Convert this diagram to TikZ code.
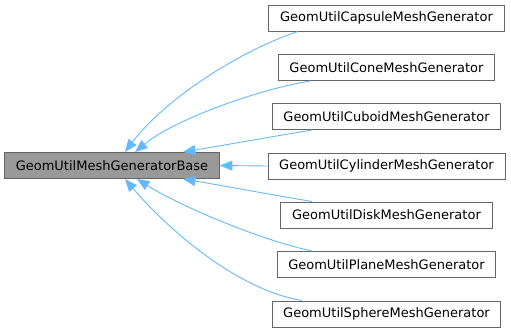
\documentclass[tikz,border=0pt]{standalone}
\usepackage{fontspec}
\setmainfont{DejaVu Sans}
\usetikzlibrary{arrows.meta}
\definecolor{edgeblue}{HTML}{63B8FF}
\definecolor{boxborder}{HTML}{666666}
\definecolor{basefill}{HTML}{999999}
\begin{document}
\begin{tikzpicture}[x=1pt,y=-1pt,
  cls/.style={draw=boxborder, line width=1pt, fill=white, minimum height=26pt,
    inner xsep=11.2pt, inner ysep=0pt, font=\fontsize{13}{15}\selectfont, text=black},
  basecls/.style={cls, fill=basefill},
  edge/.style={draw=edgeblue, line width=0.9pt, {Triangle[length=12.5pt,width=10pt]}-}
]
\useasboundingbox (0,0) rectangle (511,332);
\node[basecls] (base) at (112,165.5) {GeomUtilMeshGeneratorBase};
\node[cls] (capsule) at (386.5,18) {GeomUtilCapsuleMeshGenerator};
\node[cls] (cone) at (386.5,67.5) {GeomUtilConeMeshGenerator};
\node[cls] (cuboid) at (386.5,116.5) {GeomUtilCuboidMeshGenerator};
\node[cls] (cylinder) at (386.5,166) {GeomUtilCylinderMeshGenerator};
\node[cls] (disk) at (386.5,215) {GeomUtilDiskMeshGenerator};
\node[cls] (plane) at (386.5,264.5) {GeomUtilPlaneMeshGenerator};
\node[cls] (sphere) at (386.5,314) {GeomUtilSphereMeshGenerator};

\draw[edge] ([xshift=13pt]base.north) .. controls +(40,-53) and +(-58,19) .. ([xshift=-88.5pt]capsule.south);
\draw[edge] ([xshift=23pt]base.north) .. controls +(40,-33) and +(-50,8) .. ([xshift=-76.5pt]cone.south);
\draw[edge] ([xshift=71pt]base.north) .. controls +(42,-7) and +(-42,7) .. ([xshift=-74.5pt]cuboid.south);
\draw[edge] (base.east) -- (cylinder.west);
\draw[edge] ([xshift=71pt]base.south) .. controls +(42,7) and +(-42,-7) .. ([xshift=-74.5pt]disk.north);
\draw[edge] ([xshift=25pt]base.south) .. controls +(43,27) and +(-52,-11) .. ([xshift=-74.5pt]plane.north);
\draw[edge] ([xshift=13pt]base.south) .. controls +(40,47) and +(-67,-11) .. ([xshift=-84.5pt]sphere.north);
\end{tikzpicture}
\end{document}
